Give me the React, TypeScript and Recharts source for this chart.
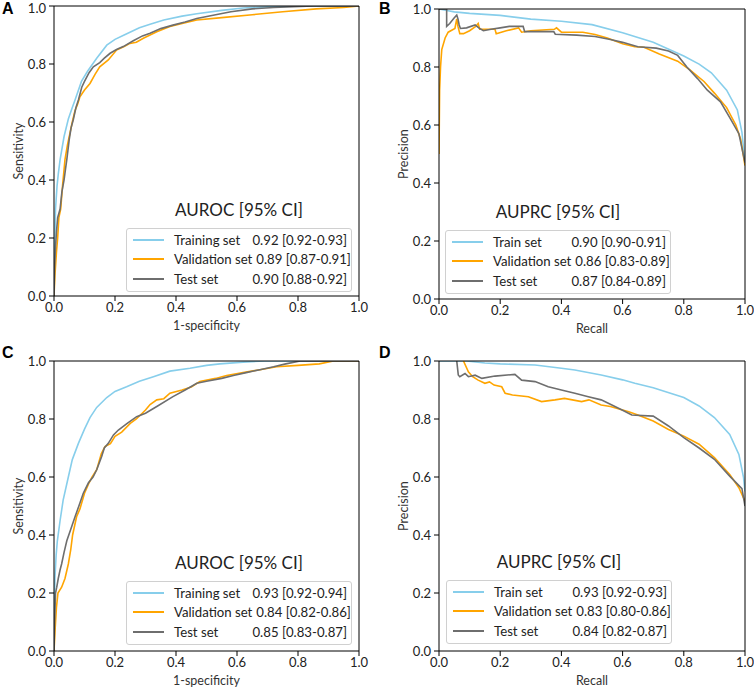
import React from 'react';
import { LineChart, Line, XAxis, YAxis, ReferenceLine, Legend } from 'recharts';

type Pt = [number, number];

const TICKS = [0, 0.2, 0.4, 0.6, 0.8, 1.0];
const COLORS = ['#87CEEB', '#FFA500', '#6E6E6E'];
const FONT = 'Lato, "Open Sans", sans-serif';

// ROC, first cohort
const rocTrainA: Pt[] = [[0,0],[0.002,0.15],[0.005,0.3],[0.01,0.38],[0.014,0.42],[0.02,0.47],[0.033,0.55],[0.047,0.61],[0.06,0.65],[0.069,0.676],[0.09,0.74],[0.11,0.775],[0.14,0.82],[0.173,0.865],[0.2,0.885],[0.23,0.9],[0.28,0.925],[0.315,0.937],[0.36,0.952],[0.42,0.965],[0.468,0.973],[0.55,0.985],[0.62,0.993],[0.7,0.997],[0.8,1],[1,1]];
const rocValA: Pt[] = [[0,0],[0.003,0.07],[0.008,0.15],[0.012,0.2],[0.016,0.27],[0.022,0.3],[0.028,0.38],[0.036,0.47],[0.044,0.52],[0.052,0.56],[0.06,0.6],[0.069,0.64],[0.077,0.66],[0.085,0.687],[0.1,0.71],[0.118,0.733],[0.135,0.765],[0.15,0.79],[0.178,0.814],[0.205,0.848],[0.23,0.86],[0.249,0.871],[0.27,0.875],[0.293,0.889],[0.337,0.911],[0.38,0.929],[0.42,0.94],[0.468,0.952],[0.55,0.96],[0.65,0.97],[0.75,0.98],[0.86,0.99],[0.95,0.995],[1,1]];
const rocTestA: Pt[] = [[0,0],[0.002,0.1],[0.005,0.17],[0.008,0.22],[0.012,0.27],[0.02,0.3],[0.026,0.36],[0.033,0.4],[0.038,0.44],[0.042,0.47],[0.05,0.54],[0.056,0.58],[0.063,0.607],[0.072,0.65],[0.08,0.676],[0.091,0.72],[0.1,0.74],[0.115,0.77],[0.129,0.79],[0.15,0.805],[0.165,0.82],[0.184,0.837],[0.205,0.85],[0.227,0.86],[0.26,0.88],[0.29,0.897],[0.315,0.906],[0.35,0.922],[0.39,0.934],[0.43,0.945],[0.468,0.957],[0.53,0.97],[0.58,0.98],[0.65,0.99],[0.72,0.995],[0.85,1],[1,1]];

// PR, first cohort
const prTrainB: Pt[] = [[0,1],[0.03,0.994],[0.05,0.99],[0.1,0.985],[0.2,0.978],[0.3,0.965],[0.4,0.958],[0.5,0.946],[0.6,0.918],[0.7,0.885],[0.8,0.838],[0.85,0.81],[0.89,0.78],[0.94,0.72],[0.975,0.652],[0.99,0.575],[1,0.47]];
const prValB: Pt[] = [[0,0.5],[0.002,0.72],[0.005,0.8],[0.009,0.86],[0.02,0.9],[0.03,0.92],[0.052,0.933],[0.058,0.966],[0.062,0.94],[0.068,0.915],[0.08,0.915],[0.1,0.925],[0.12,0.94],[0.128,0.95],[0.133,0.93],[0.183,0.93],[0.187,0.915],[0.22,0.925],[0.26,0.935],[0.27,0.92],[0.3,0.925],[0.377,0.93],[0.384,0.935],[0.4,0.92],[0.47,0.92],[0.51,0.912],[0.55,0.9],[0.6,0.88],[0.64,0.87],[0.67,0.868],[0.72,0.845],[0.78,0.82],[0.82,0.79],[0.866,0.75],[0.9,0.71],[0.94,0.66],[0.97,0.6],[0.986,0.55],[1,0.46]];
const prTestB: Pt[] = [[0,1],[0.025,1],[0.025,0.94],[0.035,0.95],[0.05,0.97],[0.058,0.979],[0.062,0.966],[0.066,0.945],[0.07,0.933],[0.09,0.935],[0.118,0.945],[0.13,0.935],[0.145,0.925],[0.17,0.93],[0.2,0.935],[0.23,0.94],[0.275,0.94],[0.28,0.922],[0.33,0.922],[0.375,0.922],[0.38,0.913],[0.45,0.91],[0.51,0.905],[0.56,0.895],[0.6,0.885],[0.65,0.87],[0.71,0.865],[0.75,0.855],[0.78,0.84],[0.81,0.8],[0.845,0.76],[0.877,0.72],[0.92,0.68],[0.953,0.62],[0.98,0.57],[1,0.47]];

// ROC, second cohort
const rocTrainC: Pt[] = [[0,0],[0.001,0.15],[0.003,0.25],[0.007,0.33],[0.011,0.38],[0.02,0.45],[0.03,0.52],[0.047,0.6],[0.06,0.66],[0.08,0.716],[0.1,0.765],[0.118,0.805],[0.14,0.84],[0.173,0.874],[0.2,0.895],[0.238,0.911],[0.28,0.93],[0.326,0.946],[0.38,0.965],[0.446,0.975],[0.5,0.985],[0.544,0.99],[0.62,0.996],[0.69,1],[1,1]];
const rocValC: Pt[] = [[0,0],[0.004,0.08],[0.008,0.15],[0.013,0.2],[0.025,0.22],[0.036,0.25],[0.047,0.3],[0.055,0.35],[0.061,0.4],[0.074,0.463],[0.085,0.49],[0.1,0.544],[0.115,0.58],[0.125,0.6],[0.14,0.625],[0.155,0.68],[0.167,0.705],[0.185,0.715],[0.2,0.74],[0.222,0.755],[0.25,0.785],[0.27,0.8],[0.3,0.831],[0.315,0.85],[0.337,0.866],[0.36,0.87],[0.38,0.889],[0.42,0.9],[0.45,0.91],[0.478,0.929],[0.53,0.94],[0.566,0.95],[0.62,0.96],[0.675,0.97],[0.73,0.98],[0.8,0.985],[0.87,0.99],[0.916,1],[1,1]];
const rocTestC: Pt[] = [[0,0],[0.002,0.1],[0.005,0.2],[0.009,0.22],[0.014,0.25],[0.02,0.28],[0.025,0.3],[0.033,0.34],[0.042,0.38],[0.055,0.42],[0.069,0.463],[0.085,0.51],[0.096,0.544],[0.113,0.58],[0.128,0.6],[0.14,0.625],[0.156,0.67],[0.165,0.7],[0.178,0.716],[0.195,0.745],[0.211,0.762],[0.24,0.785],[0.271,0.808],[0.3,0.82],[0.337,0.843],[0.39,0.877],[0.43,0.9],[0.468,0.923],[0.5,0.93],[0.55,0.94],[0.588,0.95],[0.63,0.96],[0.675,0.97],[0.72,0.98],[0.76,0.99],[0.807,1],[1,1]];

// PR, second cohort
const prTrainD: Pt[] = [[0,1],[0.09,1],[0.15,0.993],[0.2,0.99],[0.314,0.986],[0.4,0.975],[0.444,0.969],[0.53,0.952],[0.6,0.935],[0.64,0.923],[0.7,0.908],[0.8,0.874],[0.85,0.845],[0.9,0.805],[0.95,0.747],[0.98,0.678],[0.995,0.6],[1,0.55]];
const prValD: Pt[] = [[0.08,1],[0.096,0.963],[0.11,0.946],[0.128,0.934],[0.15,0.923],[0.165,0.928],[0.18,0.917],[0.205,0.911],[0.216,0.889],[0.24,0.883],[0.292,0.877],[0.335,0.86],[0.379,0.866],[0.41,0.871],[0.466,0.86],[0.49,0.866],[0.53,0.848],[0.56,0.843],[0.62,0.825],[0.65,0.814],[0.7,0.793],[0.75,0.764],[0.8,0.741],[0.85,0.713],[0.9,0.667],[0.95,0.609],[0.98,0.563],[1,0.517]];
const prTestD: Pt[] = [[0.058,1],[0.063,0.952],[0.068,0.946],[0.085,0.957],[0.096,0.946],[0.118,0.951],[0.14,0.94],[0.183,0.948],[0.248,0.954],[0.27,0.934],[0.314,0.929],[0.357,0.911],[0.4,0.9],[0.444,0.889],[0.488,0.877],[0.53,0.866],[0.575,0.843],[0.6,0.83],[0.63,0.814],[0.7,0.81],[0.75,0.776],[0.8,0.736],[0.85,0.7],[0.9,0.661],[0.95,0.603],[0.99,0.56],[1,0.5]];

const rocNames = ['Training set', 'Validation set', 'Test set'];
const prNames = ['Train set', 'Validation set', 'Test set'];
const scoresA = ['0.92 [0.92-0.93]', '0.89 [0.87-0.91]', '0.90 [0.88-0.92]'];
const scoresB = ['0.90 [0.90-0.91]', '0.86 [0.83-0.89]', '0.87 [0.84-0.89]'];
const scoresC = ['0.93 [0.92-0.94]', '0.84 [0.82-0.86]', '0.85 [0.83-0.87]'];
const scoresD = ['0.93 [0.92-0.93]', '0.83 [0.80-0.86]', '0.84 [0.82-0.87]'];

interface PanelProps {
  letter: string;
  series: Pt[][];
  names: string[];
  scores: string[];
  title: string;
  xLabel: string;
  yLabel: string;
  margin: { top: number; right: number; bottom: number; left: number };
  yAxisWidth: number;
  legendPos: { left: number; top: number };
}

const toRows = (pts: Pt[]) => pts.map(([x, y]) => ({ x, y }));

const YTitle = (props: any) => {
  const { viewBox, value } = props;
  const cx = viewBox.x + viewBox.width - 36;
  const cy = viewBox.y + viewBox.height / 2;
  return (
    <text x={cx} y={cy} transform={`rotate(-90 ${cx} ${cy})`} textAnchor="middle" dominantBaseline="central"
      fontFamily={FONT} fontSize={12.5} fill="#333">{value}</text>
  );
};

const XTitle = (props: any) => {
  const { viewBox, value } = props;
  const cx = viewBox.x + viewBox.width / 2;
  const cy = viewBox.y + 29;
  return (
    <text x={cx} y={cy} textAnchor="middle" dominantBaseline="central" fontFamily={FONT} fontSize={12.5} fill="#333">{value}</text>
  );
};

const Panel: React.FC<PanelProps> = (p) => {
  const legendBox = () => (
    <div style={{ fontFamily: FONT, color: '#222' }}>
      <div style={{ textAlign: 'center', fontSize: 17, lineHeight: '20px', marginBottom: 8 }}>{p.title}</div>
      <div style={{ border: '1px solid #d0d0d0', borderRadius: 3, background: 'rgba(255,255,255,0.85)', padding: '1px 4px 2px 6px' }}>
        {p.names.map((n, i) => (
          <div key={n} style={{ display: 'flex', alignItems: 'center', height: 19.5, fontSize: 13.2 }}>
            <span style={{ width: 31, height: 2, background: COLORS[i], marginRight: 10, flexShrink: 0 }} />
            <span style={{ whiteSpace: 'nowrap' }}>{n}</span>
            <span style={{ flex: 1, textAlign: 'right', whiteSpace: 'nowrap', marginLeft: 4 }}>{p.scores[i]}</span>
          </div>
        ))}
      </div>
    </div>
  );

  return (
    <div style={{ position: 'relative', width: 377, height: 344 }}>
      <div style={{ position: 'absolute', left: 2, top: 0, fontFamily: '"Liberation Sans", Arial, sans-serif', fontWeight: 'bold', fontSize: 16, lineHeight: '18px', zIndex: 2 }}>{p.letter}</div>
      <LineChart width={377} height={344} margin={p.margin}>
        <XAxis dataKey="x" type="number" domain={[0, 1]} ticks={TICKS} allowDataOverflow
          tickFormatter={(v: number) => v.toFixed(1)} tickSize={5} tickMargin={2} height={30}
          stroke="#000" tick={{ fill: '#222', fontSize: 13, fontFamily: FONT }}
          label={<XTitle value={p.xLabel} />} />
        <YAxis type="number" domain={[0, 1]} ticks={TICKS} allowDataOverflow width={p.yAxisWidth}
          tickFormatter={(v: number) => v.toFixed(1)} tickSize={5} tickMargin={3}
          stroke="#000" tick={{ fill: '#222', fontSize: 13, fontFamily: FONT }}
          label={<YTitle value={p.yLabel} />} />
        {p.series.map((s, i) => (
          <Line key={p.names[i]} name={p.names[i]} data={toRows(s)} dataKey="y" type="linear"
            stroke={COLORS[i]} strokeWidth={1.6} dot={false} isAnimationActive={false} />
        ))}
        <ReferenceLine y={1} stroke="#000" />
        <ReferenceLine x={1} stroke="#000" />
        <Legend layout="horizontal" align="center" verticalAlign="middle" content={legendBox}
          wrapperStyle={{ left: p.legendPos.left, top: p.legendPos.top, width: 226 }} />
      </LineChart>
    </div>
  );
};

const App: React.FC = () => (
  <div style={{ position: 'absolute', left: 0, top: 0, width: 754, height: 688, background: '#fff' }}>
    <div style={{ position: 'absolute', left: 0, top: 0 }}>
      <Panel letter="A" series={[rocTrainA, rocValA, rocTestA]} names={rocNames} scores={scoresA}
        title="AUROC [95% CI]" xLabel="1-specificity" yLabel="Sensitivity"
        margin={{ top: 6, right: 18, bottom: 18, left: 0 }} yAxisWidth={54} legendPos={{ left: 126, top: 200 }} />
    </div>
    <div style={{ position: 'absolute', left: 377, top: 0 }}>
      <Panel letter="B" series={[prTrainB, prValB, prTestB]} names={prNames} scores={scoresB}
        title="AUPRC [95% CI]" xLabel="Recall" yLabel="Precision"
        margin={{ top: 9, right: 9, bottom: 15, left: 0 }} yAxisWidth={62} legendPos={{ left: 68, top: 202 }} />
    </div>
    <div style={{ position: 'absolute', left: 0, top: 344 }}>
      <Panel letter="C" series={[rocTrainC, rocValC, rocTestC]} names={rocNames} scores={scoresC}
        title="AUROC [95% CI]" xLabel="1-specificity" yLabel="Sensitivity"
        margin={{ top: 17, right: 18, bottom: 7, left: 0 }} yAxisWidth={54} legendPos={{ left: 126, top: 209 }} />
    </div>
    <div style={{ position: 'absolute', left: 377, top: 344 }}>
      <Panel letter="D" series={[prTrainD, prValD, prTestD]} names={prNames} scores={scoresD}
        title="AUPRC [95% CI]" xLabel="Recall" yLabel="Precision"
        margin={{ top: 17, right: 9, bottom: 7, left: 0 }} yAxisWidth={62} legendPos={{ left: 69, top: 208 }} />
    </div>
  </div>
);

export default App;
